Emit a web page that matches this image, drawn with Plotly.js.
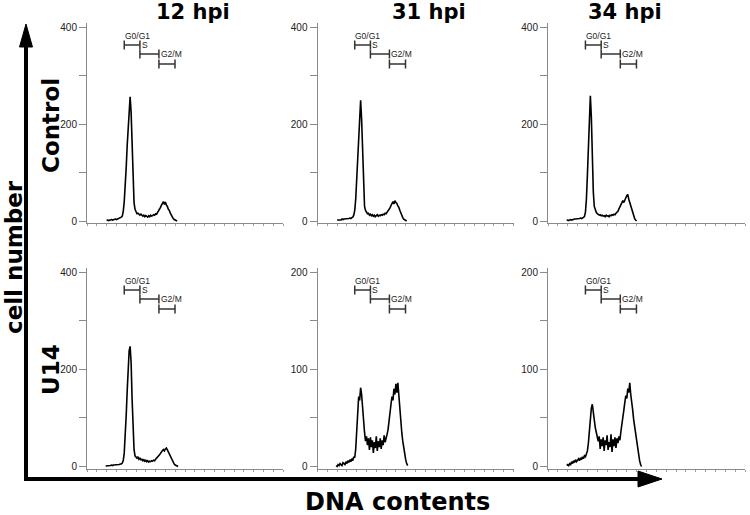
<!DOCTYPE html>
<html><head><meta charset="utf-8">
<script src="https://cdn.plot.ly/plotly-3.0.1.min.js"></script>
<style>html,body{margin:0;padding:0;background:#fff}#chart{width:750px;height:515px}</style>
</head><body><div id="chart"></div>
<script>
// ---------------- DATA ----------------
const channels = [90,95,100,105,110,115,120,125,130,135,
  140,145,150,155,160,165,170,175,180,185,
  190,195,200,205,210,215,220,225,230,235,
  240,245,250,255,260,265,270,275,280,285,
  290,295,300,305,310,315,320,325,330,335,
  340,345,350,355,360,365,370,375,380,385,
  390,395,400,405,410,415,420,425,430,435,
  440,445,450,455,460,465,470,475,480];

const columnTitles = ['12 hpi','31 hpi','34 hpi'];
const rowTitles = ['Control','U14'];
const yAxisTitle = 'cell number';
const xAxisTitle = 'DNA contents';

const control12 = [null,null,1,2,1,2,2,3,2,3,
  3,4,3,4,4,5,6,8,10,20,
  40,70,110,155,200,240,256,225,150,80,
  38,24,19,15,16,13,12,14,11,10,
  12,9,11,10,8,11,9,12,10,11,
  13,12,15,14,17,20,24,28,33,36,
  40,34,39,33,30,24,22,16,11,8,
  5,3,2,1,0,null,null,null,null];

const control31 = [null,null,2,2,3,3,2,4,3,4,
  4,5,4,5,5,6,5,7,8,12,
  22,45,85,140,195,235,249,210,130,60,
  30,22,18,15,16,12,14,11,13,10,
  12,9,11,13,10,12,11,13,12,14,
  13,16,15,18,20,22,27,32,37,40,
  35,42,38,36,31,28,22,16,11,7,
  4,2,1,0,null,null,null,null,null];

const control34 = [null,1,2,1,2,3,2,3,3,4,
  4,4,5,4,5,6,5,6,7,9,
  18,45,95,160,220,258,215,130,60,30,
  22,18,15,14,12,13,11,12,10,11,
  9,12,10,11,9,12,11,13,12,14,
  13,16,18,20,25,30,36,40,42,38,
  45,48,52,55,45,38,30,22,15,10,
  5,2,0,null,null,null,null,null,null];

const u14_12 = [null,1,1,2,1,2,2,3,2,3,
  3,4,3,3,4,4,5,5,7,12,
  28,60,105,155,205,238,247,215,140,70,
  35,22,19,17,20,15,17,14,15,12,
  14,11,13,10,12,9,11,10,12,11,
  13,12,15,17,19,20,24,27,31,33,
  35,32,36,38,34,30,25,20,15,11,
  8,5,3,2,1,0,null,null,null];

const u14_31 = [null,1,0,2,1,3,2,1,4,3,
  2,5,3,6,4,7,5,8,6,10,
  9,18,35,55,72,68,81,74,60,42,
  35,26,31,22,29,17,30,20,27,14,
  25,19,31,16,26,20,29,18,27,22,
  32,25,28,33,38,45,55,64,72,68,
  80,74,85,76,86,72,55,45,35,26,
  18,12,7,3,1,null,null,null,null];

const u14_34 = [null,1,2,1,3,2,5,3,6,4,
  7,5,6,8,6,9,7,10,8,11,
  10,13,16,24,38,52,60,64,58,48,
  40,36,33,26,31,18,28,21,30,16,
  27,22,32,17,25,20,33,15,28,21,
  30,19,29,24,31,27,36,42,50,58,
  66,73,70,80,76,86,74,68,58,48,
  40,33,28,20,12,6,2,0,null];

const panelSeries = [[control12, control31, control34],[u14_12, u14_31, u14_34]];
const panelYMax = [[400,400,400],[400,200,200]];

const gateNames = ['G0/G1','S','G2/M'];
const gateStart = [190,270,367];
const gateEnd = [270,367,449];

// ---------------- LAYOUT ----------------
const W = 750, H = 515;
const colPx = [[87,283],[317.5,513.5],[548,745]];
const rowPx = [[23,223],[268,469]];     // top, bottom of plot area
const zeroPx = [221,466.5];             // pixel of value 0
const topTickPx = [27,272];             // pixel of the top tick
const gateBarOff = [18,27,37];          // px below top tick
const gateLabelOff = [8.5,18,27];
const gateLabelX = [188,275,370];
const capHalf = 4.5;

const px2x = p => p / W;
const px2y = p => 1 - p / H;

const data = [];
const layout = {
  width: W, height: H,
  margin: {l:0, r:0, t:0, b:0},
  paper_bgcolor: '#fff', plot_bgcolor: '#fff',
  showlegend: false,
  shapes: [], annotations: []
};
const tickFont = {family:'Liberation Sans, Arial, sans-serif', size:10, color:'#222'};
const gateFont = {family:'Liberation Sans, Arial, sans-serif', size:8.5, color:'#222'};
const gateColor = '#333';

for (let r = 0; r < 2; r++) {
  for (let c = 0; c < 3; c++) {
    const k = r*3 + c;
    const s = k === 0 ? '' : String(k+1);
    const M = panelYMax[r][c];
    const ppu = (zeroPx[r] - topTickPx[r]) / M;
    const yr = [-(rowPx[r][1] - zeroPx[r]) / ppu, M + (topTickPx[r] - rowPx[r][0]) / ppu];
    layout['xaxis'+s] = {
      domain: [px2x(colPx[c][0]), px2x(colPx[c][1])],
      range: [0,1000], anchor: 'y'+s,
      showline: true, linecolor: '#8a8a8a', linewidth: 1,
      ticks: 'outside', ticklen: 2, tickcolor: '#9a9a9a', tickwidth: 1,
      dtick: 50, tick0: 0, showticklabels: false,
      showgrid: false, zeroline: false, fixedrange: true
    };
    const half = M/2, q = M/4;
    layout['yaxis'+s] = {
      domain: [px2y(rowPx[r][1]), px2y(rowPx[r][0])],
      range: yr, anchor: 'x'+s,
      showline: true, linecolor: '#8a8a8a', linewidth: 1,
      ticks: 'outside', ticklen: 7, tickcolor: '#8a8a8a', tickwidth: 1,
      tickvals: [0, q, half, 3*q, M],
      ticktext: ['0', '', String(half), '', String(M)],
      tickfont: tickFont,
      showgrid: false, zeroline: false, fixedrange: true
    };
    data.push({
      type: 'scatter', mode: 'lines',
      x: channels, y: panelSeries[r][c],
      xaxis: 'x'+s, yaxis: 'y'+s,
      line: {color: '#000', width: 1.6},
      connectgaps: false, hoverinfo: 'skip'
    });
    // gates
    for (let g = 0; g < 3; g++) {
      const yb = M - gateBarOff[g] / ppu;
      const ch = capHalf / ppu;
      const base = {type:'line', xref:'x'+s, yref:'y'+s, line:{color:gateColor, width:1.5}};
      layout.shapes.push(Object.assign({}, base, {x0:gateStart[g], x1:gateEnd[g], y0:yb, y1:yb}));
      layout.shapes.push(Object.assign({}, base, {x0:gateStart[g], x1:gateStart[g], y0:yb-ch, y1:yb+ch}));
      layout.shapes.push(Object.assign({}, base, {x0:gateEnd[g], x1:gateEnd[g], y0:yb-ch, y1:yb+ch}));
      layout.annotations.push({
        xref:'x'+s, yref:'y'+s, x: gateLabelX[g], y: M - gateLabelOff[g] / ppu,
        text: gateNames[g], showarrow:false, xanchor:'left', yanchor:'middle',
        font: gateFont, borderpad: 0
      });
    }
  }
}

// titles
const bigFont = {family:'DejaVu Sans, Liberation Sans, sans-serif', size:21, color:'#000'};
const colCenters = [193,429,625];
columnTitles.forEach((t,i) => layout.annotations.push({
  xref:'paper', yref:'paper', x: px2x(colCenters[i]), y: px2y(12),
  text: '<b>'+t+'</b>', showarrow:false, xanchor:'center', yanchor:'middle', font: bigFont,
  borderpad: 0
}));
const rowCenters = [126,370];
rowTitles.forEach((t,i) => layout.annotations.push({
  xref:'paper', yref:'paper', x: px2x(51), y: px2y(rowCenters[i]),
  text: '<b>'+t+'</b>', showarrow:false, textangle:-90, xanchor:'center', yanchor:'middle',
  font: Object.assign({}, bigFont, {size:23})
}));
layout.annotations.push({
  xref:'paper', yref:'paper', x: px2x(14), y: px2y(257),
  text: '<b>'+yAxisTitle+'</b>', showarrow:false, textangle:-90, xanchor:'center', yanchor:'middle',
  font: Object.assign({}, bigFont, {size:23})
});
layout.annotations.push({
  xref:'paper', yref:'paper', x: px2x(398), y: px2y(502),
  text: '<b>'+xAxisTitle+'</b>', showarrow:false, xanchor:'center', yanchor:'middle',
  font: Object.assign({}, bigFont, {size:24})
});

// big arrows
const P = (x,y) => px2x(x).toFixed(5)+','+px2y(y).toFixed(5);
layout.shapes.push({type:'line', xref:'paper', yref:'paper',
  x0:px2x(26), x1:px2x(26), y0:px2y(481), y1:px2y(44), line:{color:'#000', width:4}});
layout.shapes.push({type:'line', xref:'paper', yref:'paper',
  x0:px2x(24), x1:px2x(641), y0:px2y(479), y1:px2y(479), line:{color:'#000', width:4}});
layout.shapes.push({type:'path', xref:'paper', yref:'paper',
  path:'M'+P(26,24)+' L'+P(19.5,47)+' L'+P(32.5,47)+' Z', fillcolor:'#000', line:{color:'#000', width:1}});
layout.shapes.push({type:'path', xref:'paper', yref:'paper',
  path:'M'+P(662,479)+' L'+P(638,471)+' L'+P(638,487)+' Z', fillcolor:'#000', line:{color:'#000', width:1}});

Plotly.newPlot('chart', data, layout, {displayModeBar:false, staticPlot:true});
</script>
</body></html>
